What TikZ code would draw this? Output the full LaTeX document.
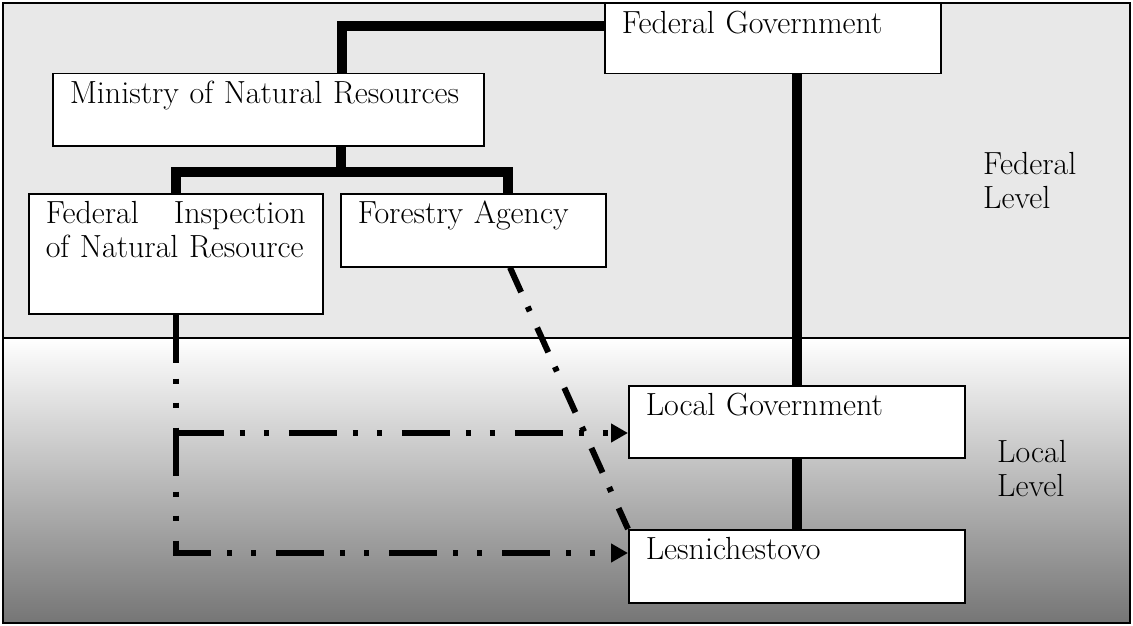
\documentclass[tikz,border=0pt]{standalone}
\usepackage{fontspec}
\usetikzlibrary{arrows.meta,positioning,calc}

\begin{document}
\begin{tikzpicture}[
  x=1pt, y=1pt,
  font=\fontsize{32pt}{34pt}\selectfont,
  orgline/.style={draw=black, line width=10pt},
  linkline/.style={draw=black, line width=6pt,
    dash pattern=on 48pt off 16pt on 5pt off 19pt on 5pt off 20pt},
  linkarrow/.style={linkline, -{Triangle[length=17pt,width=18pt]}},
  agencyline/.style={draw=black, line width=6pt,
    dash pattern=on 27pt off 16pt on 5pt off 18pt},
  orgbox/.style={draw=black, fill=white, line width=1.5pt, anchor=north west,
    align=left, inner xsep=17pt, inner ysep=0pt, text height=30pt},
  levellabel/.style={anchor=base west, align=left, inner sep=0pt}
]

% Background: federal and local level bands
\useasboundingbox (0,0) rectangle (1133,-626);
\fill[black!9] (3,-3) rectangle (1130,-338);
\shade[top color=white, bottom color=black!54] (3,-338) rectangle (1130,-623);
\draw[line width=1.5pt] (3,-338) -- (1130,-338);
\draw[line width=1.5pt] (3,-3) rectangle (1130,-623);

% Federal level
\node[orgbox, text width=302pt, text depth=40pt] (fedgov) at (604,-3) {Federal Government};
\node[orgbox, text width=397pt, text depth=42pt] (ministry) at (52,-73) {Ministry of Natural Resources};
\node[orgbox, text width=260pt, text depth=90pt] (inspection) at (28,-193) {Federal\hfill Inspection\\of Natural Resource};
\node[orgbox, text width=231pt, text depth=43pt] (forestry) at (340,-193) {Forestry Agency};

% Local level
\node[orgbox, text width=302pt, text depth=42pt] (localgov) at (628,-385) {Local Government};
\node[orgbox, text width=302pt, text depth=43pt] (lesnich) at (628,-529) {Lesnichestovo};

% Level captions
\node[levellabel] (fedlevel) at (983,-208) {Federal\\Level};
\node[levellabel] (loclevel) at (997,-496) {Local\\Level};

% Solid lines
\draw[orgline] ([yshift=-23pt]fedgov.north west) -| ([xshift=290pt]ministry.north west);
\draw[orgline] ([xshift=289pt]ministry.south west) -- ++(0,-25) -| (inspection.north);
\draw[orgline] ([xshift=289pt]ministry.south west) -- ++(0,-25) -| ([xshift=168pt]forestry.north west);
\draw[orgline] (localgov.north |- fedgov.south) -- (localgov.north);
\draw[orgline] (localgov.south) -- (lesnich.north);

% Dash-dot links
\coordinate (lgin) at ([yshift=-48pt]localgov.north west);
\coordinate (lesin) at ([yshift=-24pt]lesnich.north west);
\draw[linkarrow] (inspection.south) |- (lesin);
\draw[linkarrow] (inspection.south |- lgin) -- (lgin);
\draw[agencyline] ([xshift=170pt]forestry.south west) -- (lesnich.north west);

\end{tikzpicture}
\end{document}
